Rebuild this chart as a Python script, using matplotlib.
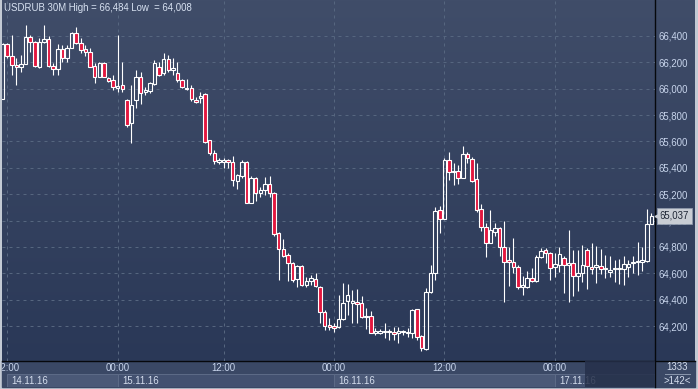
import matplotlib.pyplot as plt
import matplotlib.transforms as mtransforms
import numpy as np
from matplotlib.colors import LinearSegmentedColormap
from matplotlib.patches import Rectangle
from matplotlib.ticker import FuncFormatter

plt.rcParams['font.family'] = ['Liberation Sans', 'DejaVu Sans']

symbol = 'USDRUB 30M'
high_txt = '66,484'
low_txt = '64,008'

# 30-minute bars, 14.11.16 11:30 .. 17.11.16 11:30 (142 bars)
opens = [65922, 66339, 66248, 66180, 66165, 66188, 66392, 66354, 66165, 66354,
         66377, 66172, 66150, 66301, 66233, 66309, 66423, 66347, 66301, 66279,
         66172, 66089, 66195, 66081, 66066, 66005, 66028, 65914, 65740, 65914,
         66089, 65975, 65983, 66036, 66165, 66119, 66225, 66142, 66119, 66066,
         66005, 66005, 65914, 65930, 65960, 65611, 65512, 65444, 65444, 65459,
         65444, 65300, 65338, 65444, 65133, 65323, 65209, 65232, 65277, 65209,
         64905, 64784, 64739, 64678, 64557, 64655, 64511, 64541, 64557, 64496,
         64306, 64208, 64200, 64192, 64253, 64390, 64374, 64382, 64374, 64268,
         64276, 64147, 64147, 64154, 64162, 64154, 64147, 64154, 64147, 64147,
         64329, 64124, 64026, 64458, 64602, 65080, 65012, 65459, 65376, 65376,
         65323, 65505, 65467, 65315, 65088, 64951, 64830, 64913, 64943, 64799,
         64701, 64686, 64648, 64496, 64496, 64564, 64541, 64723, 64777, 64754,
         64648, 64663, 64716, 64663, 64678, 64579, 64602, 64777, 64648, 64648,
         64655, 64632, 64610, 64632, 64632, 64632, 64648, 64678, 64686, 64686,
         64693, 64974]
closes = [66339, 66248, 66180, 66165, 66188, 66392, 66354, 66172, 66354, 66377,
          66172, 66150, 66301, 66233, 66309, 66423, 66347, 66294, 66279, 66165,
          66089, 66195, 66089, 66059, 66013, 66021, 65998, 65725, 65876, 66089,
          65968, 65990, 66043, 66195, 66104, 66225, 66142, 66157, 66066, 66013,
          65998, 65922, 65899, 65945, 65596, 65512, 65452, 65459, 65459, 65444,
          65308, 65345, 65444, 65133, 65323, 65209, 65232, 65277, 65209, 64898,
          64784, 64731, 64678, 64549, 64655, 64511, 64541, 64564, 64503, 64306,
          64200, 64192, 64185, 64253, 64374, 64435, 64390, 64367, 64268, 64276,
          64147, 64162, 64162, 64162, 64154, 64139, 64162, 64162, 64154, 64321,
          64117, 64033, 64458, 64602, 65072, 65012, 65459, 65368, 65368, 65323,
          65505, 65474, 65300, 65080, 64951, 64830, 64928, 64943, 64799, 64686,
          64686, 64648, 64496, 64511, 64564, 64541, 64723, 64769, 64754, 64640,
          64670, 64746, 64663, 64678, 64579, 64602, 64663, 64655, 64632, 64663,
          64632, 64640, 64625, 64640, 64640, 64670, 64670, 64686, 64693, 64701,
          64974, 65037]
highs = [66347, 66347, 66408, 66233, 66256, 66483, 66408, 66362, 66385, 66484,
         66400, 66195, 66339, 66332, 66332, 66430, 66468, 66385, 66332, 66309,
         66195, 66203, 66203, 66089, 66104, 66408, 66203, 65922, 66028, 66142,
         66127, 66013, 66051, 66218, 66203, 66271, 66256, 66233, 66203, 66074,
         66074, 66028, 65937, 65975, 65968, 65611, 65535, 65474, 65474, 65467,
         65490, 65353, 65459, 65452, 65338, 65330, 65254, 65330, 65338, 65217,
         64913, 64860, 64754, 64686, 64663, 64663, 64572, 64587, 64602, 64503,
         64321, 64261, 64223, 64435, 64526, 64519, 64473, 64481, 64428, 64337,
         64314, 64185, 64177, 64223, 64177, 64192, 64192, 64170, 64185, 64329,
         64329, 64132, 64488, 64663, 65103, 65110, 65474, 65520, 65437, 65421,
         65565, 65520, 65482, 65437, 65125, 64981, 65080, 64981, 64951, 64997,
         64799, 64868, 64663, 64579, 64617, 64640, 64739, 64792, 64792, 64761,
         64754, 64799, 64731, 64928, 64777, 64777, 64814, 64792, 64830, 64807,
         64784, 64739, 64731, 64701, 64708, 64731, 64701, 64731, 64837, 64799,
         65088, 65057]
lows = [65922, 66233, 66104, 66028, 66127, 66188, 66279, 66165, 66157, 66347,
        66165, 66104, 66104, 66203, 66203, 66309, 66339, 66271, 66248, 66165,
        66043, 66089, 66089, 66051, 65990, 65975, 65975, 65710, 65588, 65854,
        65884, 65952, 65968, 66028, 66096, 66104, 66127, 66104, 66051, 66005,
        65990, 65907, 65892, 65892, 65588, 65497, 65429, 65429, 65399, 65399,
        65262, 65239, 65323, 65133, 65133, 65148, 65179, 65194, 65179, 64883,
        64549, 64723, 64541, 64534, 64496, 64503, 64496, 64511, 64496, 64223,
        64170, 64170, 64154, 64185, 64246, 64283, 64223, 64223, 64261, 64177,
        64147, 64132, 64139, 64109, 64094, 64094, 64071, 64132, 64117, 64109,
        64094, 64008, 64018, 64450, 64549, 64905, 65012, 65308, 65270, 65277,
        65323, 65437, 65292, 65065, 64921, 64723, 64830, 64883, 64731, 64382,
        64503, 64602, 64481, 64435, 64488, 64534, 64534, 64716, 64678, 64549,
        64572, 64610, 64450, 64382, 64428, 64466, 64534, 64481, 64594, 64526,
        64594, 64564, 64572, 64534, 64519, 64511, 64572, 64602, 64587, 64617,
        64686, 64974]

time_ticks = [1, 25, 48, 72, 96, 120]
time_labels = ['12:00', '00:00', '12:00', '00:00', '12:00', '00:00']
day_starts = [1, 25, 72, 120]
day_labels = ['14.11.16', '15.11.16', '16.11.16', '17.11.16']
price_ticks = list(range(64200, 66401, 200))
bar_count = '1333'
bars_shown = '>142<'

W, H = 698, 389
FS = 6.9
grid_c = '#56667f'
txt_c = '#c8d5ec'
red = '#e3173f'

fig = plt.figure(figsize=(W / 100, H / 100), dpi=100)
fig.patch.set_facecolor('#c3cad4')

# background panel in pixel coordinates
bg = fig.add_axes([0, 0, 1, 1])
bg.set_zorder(0)
grad = LinearSegmentedColormap.from_list('g', ['#404d69', '#2a3857'])
bg.imshow(np.linspace(0, 1, 256).reshape(-1, 1), cmap=grad, aspect='auto',
          extent=[2, 695, 361, 0], origin='upper')
bg.add_patch(Rectangle((2, 361), 693, 26, color='#3a4865'))
bg.plot([655, 655], [0, 387], color='#06080c', lw=1)
bg.plot([2, 695], [361, 361], color='#06080c', lw=1)
bg.plot([665, 690], [373.5, 373.5], color='#8a97ad', lw=0.7)
bg.text(677, 367.5, bar_count, fontsize=FS, color='#d5deee', ha='center', va='center')
bg.text(677, 380.5, bars_shown, fontsize=FS, color='#d5deee', ha='center', va='center')
bg.text(4, 7.5, f'{symbol} High = {high_txt} Low  = {low_txt}', fontsize=FS,
        color='#d8e2f2', ha='left', va='center')
bg.set_xlim(0, W)
bg.set_ylim(H, 0)
bg.axis('off')

# main price axes
ax = fig.add_axes([2 / W, 28 / H, 653 / W, 361 / H])
ax.set_zorder(2)
ax.patch.set_alpha(0)
x = np.arange(len(opens))
o = np.array(opens)
c = np.array(closes)
hi = np.array(highs)
lo = np.array(lows)
top = np.maximum(o, c)
bot = np.minimum(o, c)
up = c >= o

ax.vlines(x, top, hi, color='white', lw=0.8, zorder=3)
ax.vlines(x, lo, bot, color='white', lw=0.8, zorder=3)
ax.bar(x[up], (top - bot)[up], bottom=bot[up], width=0.78, facecolor='none',
       edgecolor='white', linewidth=0.8, zorder=4)
ax.bar(x[~up], (top - bot)[~up], bottom=bot[~up], width=0.78, facecolor=red,
       edgecolor='white', linewidth=0.8, zorder=4)

ax.set_xlim(-0.15, 141.8)
ax.set_ylim(63935, 66673)
ax.set_xticks(time_ticks)
ax.set_yticks(price_ticks)
ax.yaxis.tick_right()
ax.yaxis.set_major_formatter(FuncFormatter(lambda v, p: f'{v:,.0f}'))
ax.tick_params(axis='y', length=0, pad=2.4, labelsize=FS, labelcolor=txt_c)
ax.tick_params(axis='x', length=0, labelbottom=False)
ax.grid(True, color=grid_c, linestyle=(0, (3, 4)), lw=0.72)
for s in ax.spines.values():
    s.set_visible(False)

# current price tag
trans = mtransforms.blended_transform_factory(ax.transAxes, ax.transData)
ax.annotate(f'{closes[-1]:,}', xy=(1.0, closes[-1]), xycoords=trans,
            xytext=(3.6, 0), textcoords='offset points', ha='left', va='center',
            fontsize=FS, color='#1c2433', annotation_clip=False,
            bbox=dict(boxstyle='square,pad=0.32', fc='#c9cdd4', ec='#8d98aa', lw=0.6))
ax.plot([1.0035], [closes[-1]], marker='<', ms=3.5, color='#c9cdd4',
        transform=trans, clip_on=False, zorder=6)

# time / date strip
ax_t = fig.add_axes([2 / W, 2 / H, 653 / W, 26 / H], sharex=ax)
ax_t.set_zorder(3)
ax_t.patch.set_alpha(0)
ax_t.set_ylim(0, 26)
ax_t.axis('off')
day_ends = day_starts[1:] + [141.8]
for i, (s0, s1, lab) in enumerate(zip(day_starts, day_ends, day_labels)):
    fc = '#4b5977' if i % 2 == 0 else '#435170'
    ax_t.add_patch(Rectangle((s0, 0), s1 - s0, 13, facecolor=fc,
                             edgecolor='#5d6b87', lw=0.7))
    ax_t.text(s0 + 0.95, 6.5, lab, fontsize=FS, color='#d5deee',
              ha='left', va='center', clip_on=True)
for t, lab in zip(time_ticks, time_labels):
    ax_t.text(t, 19, lab, fontsize=FS, color=txt_c, ha='center',
              va='center', clip_on=True)
ax_t.add_patch(Rectangle(((585 - 2) / 653, 0), 70 / 653, 1, transform=ax_t.transAxes,
                         facecolor='#25304a', alpha=0.85, zorder=5))

fig.savefig('out.png', dpi=100, facecolor=fig.get_facecolor())
